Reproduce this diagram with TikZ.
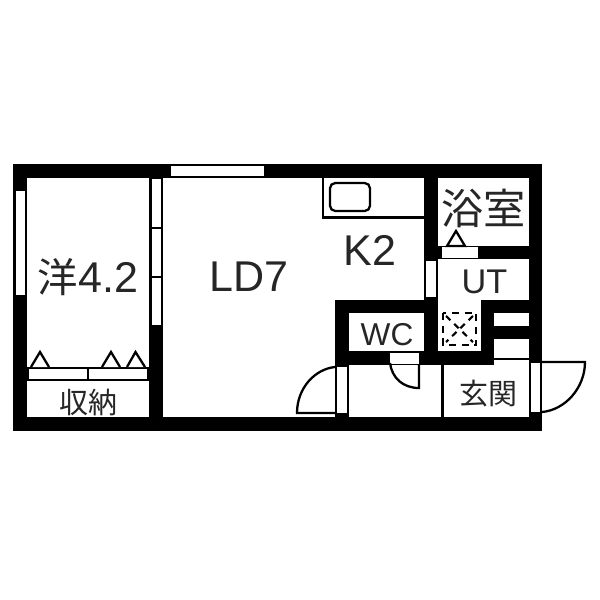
\documentclass[tikz,border=0pt]{standalone}
\usepackage{fontspec}
\setmainfont{Liberation Sans}
\newfontfamily\jpfont{Noto Sans CJK JP}
\begin{document}
\begin{tikzpicture}[x=0.02cm,y=-0.02cm,
  wall/.style={fill=black,draw=none},
  pane/.style={fill=white,draw=black,line width=1.3pt},
  thin line/.style={draw=black,line width=1.3pt},
  shelf mark/.style={draw=black,line width=1.3pt,fill=white,line join=miter},
  label/.style={inner sep=0pt,text=black!85}]
\useasboundingbox (0,0) rectangle (600,600);
% outer walls
\fill[wall] (13.5,164) rectangle (542,178);
\fill[wall] (13.5,417) rectangle (542,431);
\fill[wall] (13.5,164) rectangle (27,431);
\fill[wall] (529,164) rectangle (542,431);
\fill[wall] (149.5,178) rectangle (163,431);
% inner walls
\fill[wall] (424,178) rectangle (438,260);
\fill[wall] (424,245.5) rectangle (542,259);
\fill[wall] (335,300) rectangle (438,313);
\fill[wall] (335,300) rectangle (349,417);
\fill[wall] (424,260) rectangle (438,365);
\fill[wall] (335,351) rectangle (494,365);
\fill[wall] (481,300) rectangle (494,365);
\fill[wall] (481,300) rectangle (542,313);
\fill[wall] (481,326) rectangle (542,339);
% windows
\draw[pane] (170,165) rectangle (265,177);
\draw[pane] (14.5,190) rectangle (26,296);
\draw[pane] (150.5,178) rectangle (162,326);
\draw[thin line] (150.5,228) -- (162,228) (150.5,277) -- (162,277);
% doors
\fill[white] (442,247) rectangle (478,258);
\draw[pane] (425,260) rectangle (437,298);
\fill[white] (390,353) rectangle (419,363.5);
\fill[white] (336,367) rectangle (348,413);
\fill[white] (530,363) rectangle (541,412);
\fill[white] (494,314) rectangle (529,325.5);
\fill[white] (494,339) rectangle (529,358);
\fill[white] (494,360) rectangle (529,365);
\fill[white] (481,365) rectangle (529,417);
\draw[thin line] (494,359) -- (529,359);
% door swings
\draw[thin line] (419,365) -- (419,388) .. controls (403,388) and (392,378) .. (390,363);
\draw[thin line] (335,413) -- (297,413) .. controls (297,388) and (315,369) .. (335,367);
\draw[thin line] (542,362) -- (585,362) .. controls (585,388) and (565,410) .. (542,412);
\draw[thin line] (336,367) -- (336,413) (348,367) -- (348,413);
\draw[thin line] (530,363) -- (530,412) (541,363) -- (541,412);
% partition
\draw[thin line] (442.5,365) -- (442.5,417);
% kitchen
\draw[thin line] (323,178) -- (323,217.5) -- (424,217.5);
\draw[thin line,rounded corners=3pt] (330,183) rectangle (370,211);
% closet
\draw[pane] (28,368) rectangle (148,380);
\draw[thin line] (88,368) -- (88,380);
\draw[shelf mark] (31,367) -- (40,352) -- (49,367);
\draw[shelf mark] (102,367) -- (111,352) -- (120,367);
\draw[shelf mark] (127,367) -- (135.5,352) -- (145,367);
\draw[shelf mark] (447,246) -- (456,231) -- (465,246) -- cycle;
% washer pan
\draw[line width=1.6pt,dash pattern=on 4pt off 3.2pt] (443,313) rectangle (476,345);
\draw[line width=1.2pt,dash pattern=on 3.5pt off 3pt] (446,316) -- (473,342) (473,316) -- (446,342);
% room names
\node[label] (western) at (88,277) {\fontsize{24.5}{24}\selectfont{\jpfont\fontsize{23}{23}\selectfont 洋}4.2};
\node[label] (living) at (249,277) {\fontsize{24.5}{24}\selectfont LD7};
\node[label] (kitchen) at (370,250) {\fontsize{24.5}{24}\selectfont K2};
\node[label] (bath) at (484,208) {\jpfont\fontsize{24}{24}\selectfont 浴室};
\node[label] (utility) at (484.5,282) {\fontsize{19.5}{20}\selectfont UT};
\node[label] (toilet) at (387,335) {\fontsize{18}{18}\selectfont WC};
\node[label] (closet) at (88.5,402) {\jpfont\fontsize{16.5}{17}\selectfont 収納};
\node[label] (entry) at (488.5,394) {\jpfont\fontsize{16.5}{17}\selectfont 玄関};
\end{tikzpicture}
\end{document}
